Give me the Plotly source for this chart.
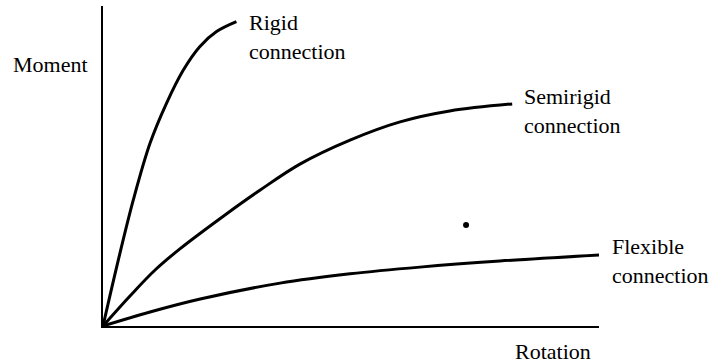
import plotly.graph_objects as go

# Moment-rotation curves for three connection types (arbitrary units)
rigid_rot = [0.0, 0.276, 0.611, 0.948, 1.28, 1.62, 1.95, 2.29, 2.69]
rigid_mom = [0.0, 1.85, 3.94, 5.71, 6.96, 8.00, 8.73, 9.20, 9.51]

semirigid_rot = [0.0, 0.544, 1.05, 1.55, 2.46, 3.17, 3.97, 4.98, 5.99, 6.99, 8.25]
semirigid_mom = [0.0, 0.938, 1.75, 2.41, 3.47, 4.25, 5.06, 5.81, 6.38, 6.72, 6.94]

flexible_rot = [0.0, 0.948, 1.96, 3.57, 4.98, 6.39, 8.00, 10.0]
flexible_mom = [0.0, 0.438, 0.844, 1.34, 1.63, 1.84, 2.03, 2.22]

stray_dot = (7.32, 3.16)

font = dict(family="Liberation Serif", size=22, color="black")

fig = go.Figure()
for xs, ys in [(rigid_rot, rigid_mom), (semirigid_rot, semirigid_mom), (flexible_rot, flexible_mom)]:
    fig.add_trace(go.Scatter(x=xs, y=ys, mode="lines",
                             line=dict(color="black", width=3, shape="spline", smoothing=1.0),
                             showlegend=False, hoverinfo="skip", cliponaxis=False))

fig.add_trace(go.Scatter(x=[stray_dot[0]], y=[stray_dot[1]], mode="markers",
                         marker=dict(color="black", size=6), showlegend=False, hoverinfo="skip"))

# Curve labels and axis titles, placed in paper coordinates
labels = [
    ("Rigid<br>connection", 0.290, 0.9016),
    ("Semirigid<br>connection", 0.845, 0.6734),
    ("Flexible<br>connection", 1.022, 0.2016),
    ("Moment", -0.185, 0.816),
    ("Rotation", 0.827, -0.081),
]
for text, x, y in labels:
    fig.add_annotation(x=x, y=y, text=text, showarrow=False, xanchor="left", align="left",
                       yanchor="middle", font=font, xref="paper", yref="paper")

axis_common = dict(showgrid=False, zeroline=False, showticklabels=False, ticks="",
                   showline=True, linecolor="black", linewidth=2, fixedrange=True)
fig.update_xaxes(range=[0, 10], **axis_common)
fig.update_yaxes(range=[0, 10], **axis_common)

fig.update_layout(width=713, height=363, margin=dict(l=103, r=114, t=6, b=37),
                  plot_bgcolor="white", paper_bgcolor="white", font=font)

fig.write_html("out.html", config={"displayModeBar": False})
